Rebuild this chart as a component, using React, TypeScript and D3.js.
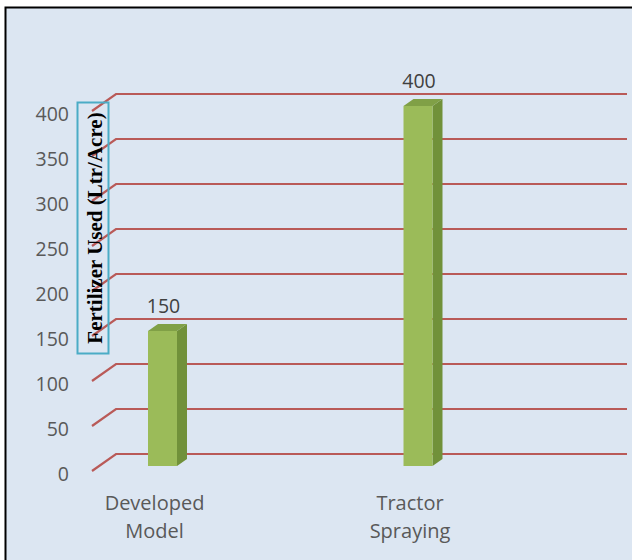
import React from "react";
import * as d3 from "d3";

const categories = ["Developed Model", "Tractor Spraying"];
const categoryLines = [["Developed", "Model"], ["Tractor", "Spraying"]];
const values = [150, 400];
const yTicks = [0, 50, 100, 150, 200, 250, 300, 350, 400];
const valueLabels = ["150", "400"];
const axisTitle = "Fertilizer Used (Ltr/Acre)";

const W = 632;
const H = 560;

export default function App() {
  // back plane of the 3D floor/walls
  const y = d3.scaleLinear().domain([0, 400]).range([454, 94]);
  const backX0 = 116;
  const backX1 = 628;
  const depthX = 24;
  const depthY = 17;
  // bar centers (front face)
  const x = d3.scalePoint<string>().domain(categories).range([162.5, 418]);
  const barW = 29;
  const barDX = 10;
  const barDY = 7;
  const barOffY = 12; // bar front face offset from back plane (y)

  const font = "'Open Sans', sans-serif";

  return (
    <svg
      width={W}
      height={H}
      style={{ position: "absolute", left: 0, top: 0, display: "block" }}
    >
      <rect x={0} y={0} width={W} height={H} fill="#ffffff" />
      <rect x={5.5} y={7.5} width={W} height={H} fill="#dce6f2" stroke="#000" strokeWidth={2} />

      {/* gridlines */}
      {yTicks.map((t) => {
        const yb = y(t);
        return (
          <g key={t}>
            <polyline
              points={`${backX0 - depthX},${yb + depthY} ${backX0},${yb} ${backX1 - 1},${yb}`}
              fill="none"
              stroke="#b95a58"
              strokeWidth={2.2}
            />
          </g>
        );
      })}

      {/* tick labels */}
      {yTicks.map((t) => (
        <text
          key={"l" + t}
          x={69}
          y={y(t) + depthY + 2}
          textAnchor="end"
          dominantBaseline="central"
          fontFamily={font}
          fontSize={19.5}
          fill="#595959"
        >
          {t}
        </text>
      ))}

      {/* bars */}
      {categories.map((c, i) => {
        const cx = x(c)!;
        const x0 = cx - barW / 2;
        const x1 = cx + barW / 2;
        const yBottom = y(0) + barOffY;
        const yTop = y(values[i]) + barOffY;
        return (
          <g key={c}>
            <polygon
              points={`${x1},${yTop} ${x1 + barDX},${yTop - barDY} ${x1 + barDX},${yBottom - barDY} ${x1},${yBottom}`}
              fill="#71913a"
            />
            <polygon
              points={`${x0},${yTop} ${x0 + barDX},${yTop - barDY} ${x1 + barDX},${yTop - barDY} ${x1},${yTop}`}
              fill="#80a046"
            />
            <rect x={x0} y={yTop} width={barW} height={yBottom - yTop} fill="#9bbb59" />
            <text
              x={cx + 1}
              y={yTop - 26}
              textAnchor="middle"
              dominantBaseline="central"
              fontFamily={font}
              fontSize={19.5}
              fill="#404040"
            >
              {valueLabels[i]}
            </text>
          </g>
        );
      })}

      {/* category labels */}
      {categories.map((c, i) => (
        <text
          key={"c" + c}
          x={x(c)! - 8}
          y={502}
          textAnchor="middle"
          dominantBaseline="central"
          fontFamily={font}
          fontSize={20}
          fill="#595959"
        >
          {categoryLines[i].map((ln, j) => (
            <tspan key={j} x={x(c)! - 8} dy={j === 0 ? 0 : 28}>
              {ln}
            </tspan>
          ))}
        </text>
      ))}

      {/* axis title */}
      <rect x={77.5} y={102.5} width={31} height={251} fill="none" stroke="#4bacc6" strokeWidth={2} />
      <text
        transform={`translate(95,228) rotate(-90)`}
        textAnchor="middle"
        dominantBaseline="central"
        fontFamily="'Liberation Serif', 'Times New Roman', serif"
        fontWeight="bold"
        fontSize={21}
        fill="#000"
      >
        {axisTitle}
      </text>
    </svg>
  );
}
